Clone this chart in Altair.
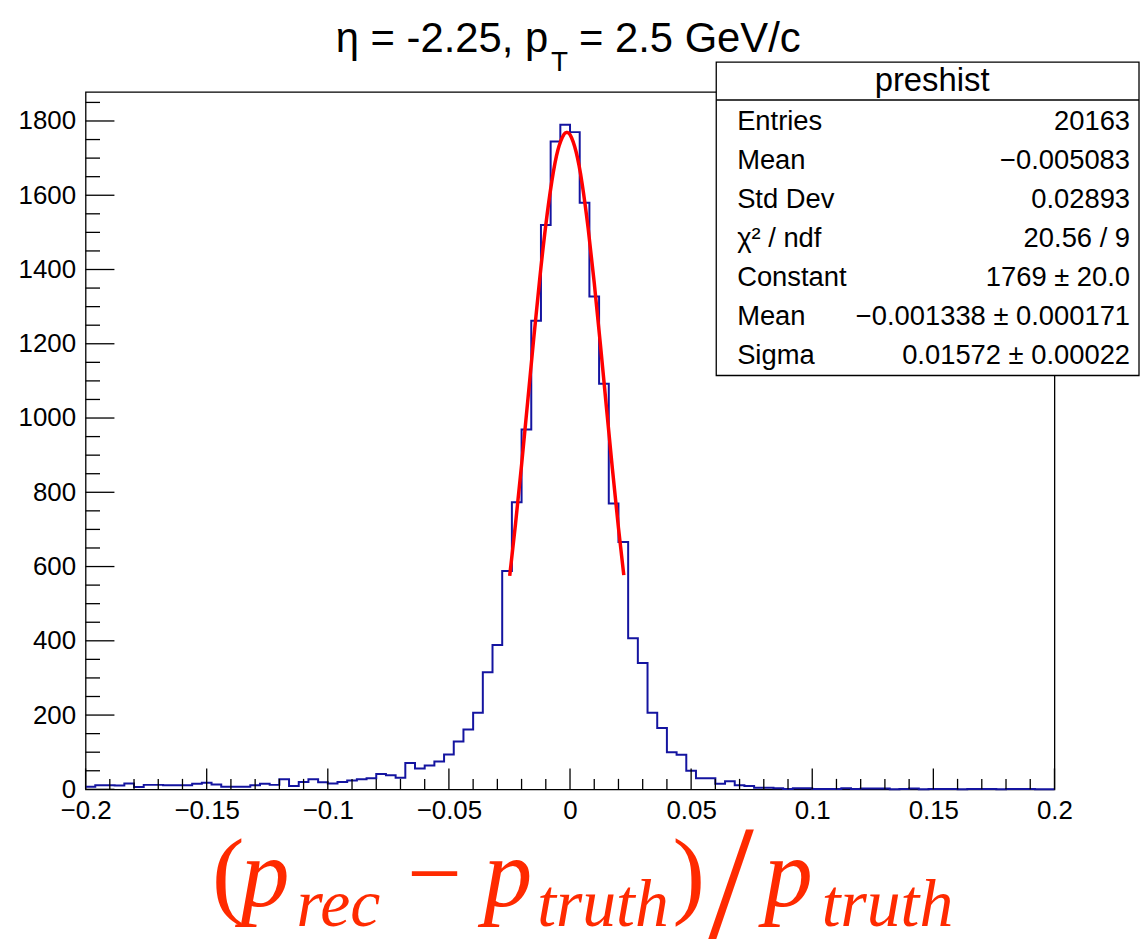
import altair as alt
import pandas as pd

# ---------------- data ----------------
bin_lo = -0.2
bin_w = 0.004
counts = [7, 11, 11, 10, 16, 6, 12, 12, 11, 11,
          11, 15, 18, 13, 7, 7, 7, 11, 15, 12,
          27, 9, 20, 27, 19, 16, 20, 24, 27, 30,
          41, 38, 31, 71, 56, 64, 75, 94, 129, 161,
          206, 315, 389, 588, 773, 969, 1262, 1520, 1745, 1790,
          1770, 1580, 1327, 1092, 770, 666, 407, 340, 206, 165,
          100, 93, 50, 30, 30, 15, 22, 11, 9, 4,
          4, 3, 1, 3, 3, 1, 1, 1, 3, 1,
          2, 2, 2, 0, 1, 2, 0, 1, 1, 1,
          0, 1, 1, 1, 0, 1, 1, 1, 0, 0]

fit_x = [-0.0249, -0.0225, -0.02, -0.0175, -0.015, -0.0125, -0.01, -0.0075, -0.005,
         -0.0025, -0.00134, 0.0, 0.0025, 0.005, 0.0075, 0.01, 0.0125, 0.015, 0.0175,
         0.02, 0.0222]
fit_y = [575, 715, 874, 1043, 1213, 1375, 1520, 1638, 1722,
         1764, 1769, 1763, 1717, 1631, 1510, 1364, 1201, 1031, 863,
         704, 577]

x_major = [-0.2, -0.15, -0.1, -0.05, 0.0, 0.05, 0.1, 0.15, 0.2]
x_minor = [-0.19, -0.18, -0.17, -0.16, -0.14, -0.13, -0.12, -0.11, -0.09, -0.08,
           -0.07, -0.06, -0.04, -0.03, -0.02, -0.01, 0.01, 0.02, 0.03, 0.04,
           0.06, 0.07, 0.08, 0.09, 0.11, 0.12, 0.13, 0.14, 0.16, 0.17,
           0.18, 0.19]
y_major = [0, 200, 400, 600, 800, 1000, 1200, 1400, 1600, 1800]
y_minor = [50, 100, 150, 250, 300, 350, 450, 500, 550, 650, 700, 750,
           850, 900, 950, 1050, 1100, 1150, 1250, 1300, 1350, 1450, 1500,
           1550, 1650, 1700, 1750, 1850]

stat_title = "preshist"
stat_labels = ["Entries", "Mean", "Std Dev", "\u03c7\u00b2 / ndf", "Constant", "Mean", "Sigma"]
stat_values = ["20163", "\u22120.005083", "0.02893", "20.56 / 9", "1769 \u00b1 20.0",
               "\u22120.001338 \u00b1 0.000171", "0.01572 \u00b1 0.00022"]

# ---------------- layout ----------------
W, H = 974, 701
SANS = "Liberation Sans, Arial, Helvetica, sans-serif"
SERIF = "Liberation Serif, Times New Roman, serif"
RED = "#ff2a00"
BLUE = "#1414a0"

edges = [bin_lo + bin_w * k for k in range(len(counts) + 1)]
df_hist = pd.DataFrame({"x": edges, "y": counts + [counts[-1]]})
df_fit = pd.DataFrame({"x": fit_x, "y": fit_y})

xs = alt.Scale(domain=[-0.2, 0.2], nice=False, zero=False)
ys = alt.Scale(domain=[0, 1878], nice=False, zero=True)

XAX = alt.Axis(values=x_major, format=".2~f", labelFontSize=26, labelFont=SANS,
               labelColor="black", ticks=False, domain=False, grid=False,
               labelPadding=8, labelFlush=False, labelOverlap=False, title=None)
YAX = alt.Axis(values=y_major, format="d", labelFontSize=26, labelFont=SANS,
               labelColor="black", ticks=False, domain=False, grid=False,
               labelPadding=10, labelFlush=False, labelOverlap=False, title=None)

hist = alt.Chart(df_hist).mark_line(interpolate="step-after", color=BLUE, strokeWidth=2).encode(
    x=alt.X("x:Q", scale=xs, axis=XAX),
    y=alt.Y("y:Q", scale=ys, axis=YAX),
)

fit = alt.Chart(df_fit).mark_line(interpolate="natural", color="#ff0000", strokeWidth=3.5).encode(
    x=alt.X("x:Q", scale=xs, axis=XAX),
    y=alt.Y("y:Q", scale=ys, axis=YAX),
)

def xticks(vals, length):
    return alt.Chart(pd.DataFrame({"x": vals})).mark_rule(color="black", strokeWidth=1.3).encode(
        x=alt.X("x:Q", scale=xs, axis=XAX),
        y=alt.value(H), y2=alt.value(H - length),
    )

def yticks(vals, length):
    return alt.Chart(pd.DataFrame({"y": vals})).mark_rule(color="black", strokeWidth=1.3).encode(
        y=alt.Y("y:Q", scale=ys, axis=YAX),
        x=alt.value(0), x2=alt.value(length),
    )

def text(s, x, y, size, font=SANS, align="left", baseline="alphabetic", color="black",
         style="normal"):
    return alt.Chart(pd.DataFrame({"t": [s]})).mark_text(
        align=align, baseline=baseline, font=font, fontSize=size, color=color,
        fontStyle=style,
    ).encode(text="t:N", x=alt.value(x), y=alt.value(y))

one = pd.DataFrame({"a": [0]})

# stats box
box = alt.Chart(one).mark_rect(fill="white", stroke="black", strokeWidth=1.3).encode(
    x=alt.value(634), x2=alt.value(1059), y=alt.value(-30), y2=alt.value(285))
divider = alt.Chart(one).mark_rule(color="black", strokeWidth=1.3).encode(
    x=alt.value(634), x2=alt.value(1059), y=alt.value(8))

layers = [hist, fit,
          xticks(x_major, 21), xticks(x_minor, 10.5),
          yticks(y_major, 29), yticks(y_minor, 14.5),
          box, divider,
          text(stat_title, 851, -11, 33, align="center", baseline="middle")]
row_y0, row_dy = 30, 39.2
for i, (lab, val) in enumerate(zip(stat_labels, stat_values)):
    y = row_y0 + i * row_dy
    layers.append(text(lab, 655, y, 27.5, baseline="middle"))
    layers.append(text(val, 1050, y, 27.5, align="right", baseline="middle"))

# title  eta = -2.25, p_T = 2.5 GeV/c
layers += [
    text("\u03b7 = -2.25, p", 465, -40, 42, align="right"),
    text("T", 468, -21, 28),
    text("= 2.5 GeV/c", 496, -40, 42),
]

# x-axis label (p_rec - p_truth) / p_truth
layers += [
    text("(", 127, 818, 98, font=SERIF, color=RED),
    text("p", 156, 818, 98, font=SERIF, color=RED, style="italic"),
    text("rec", 212, 838, 68, font=SERIF, color=RED, style="italic"),
    text("\u2212", 323, 818, 98, font=SERIF, color=RED),
    text("p", 400, 818, 98, font=SERIF, color=RED, style="italic"),
    text("truth", 454, 838, 68, font=SERIF, color=RED, style="italic"),
    text(")", 590, 818, 98, font=SERIF, color=RED),
    text("/", 626, 849, 165, font=SERIF, color=RED),
    text("p", 682, 818, 98, font=SERIF, color=RED, style="italic"),
    text("truth", 740, 838, 68, font=SERIF, color=RED, style="italic"),
]

chart = alt.layer(*layers).properties(
    width=W, height=H,
    autosize=alt.AutoSizeParams(type="none"),
    padding={"left": 78, "top": 82, "right": 86, "bottom": 148},
    background="white",
).configure_view(stroke="black", strokeWidth=1.3)

chart.save("out.html", embed_options={"renderer": "svg", "actions": False})
